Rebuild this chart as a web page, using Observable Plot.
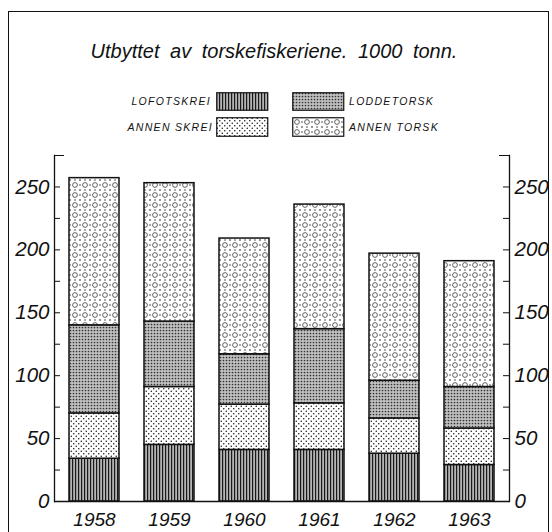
<!DOCTYPE html>
<html>
<head>
<meta charset="utf-8">
<script src="https://cdn.jsdelivr.net/npm/d3@7"></script>
<script src="https://cdn.jsdelivr.net/npm/@observablehq/plot@0.6"></script>
<style>
  body { margin: 0; background: #fff; }
  #wrap { position: relative; width: 552px; height: 532px; overflow: hidden; background: #fff;
          font-family: "Liberation Sans", Arial, sans-serif; color: #111; }
  #border { position: absolute; left: 8px; top: 11px; width: 539px; height: 540px;
            border: 1.5px solid #111; border-bottom: none; }
  #title { position: absolute; left: 0; width: 548px; top: 41px; text-align: center;
           font-style: italic; font-size: 20px; line-height: 20px; word-spacing: 5px; white-space: nowrap; }
  .lg { position: absolute; font-style: italic; font-size: 10.5px; line-height: 10.5px;
        letter-spacing: 1.3px; white-space: nowrap; }
  .sw { position: absolute; }
  #chart { position: absolute; left: 0; top: 140px; }
  #chart text { font-style: italic; }
  #chart g[aria-label="y-axis tick label"] { font-size: 20.5px; }
</style>
</head>
<body>
<svg width="0" height="0" style="position:absolute">
  <defs>
    <pattern id="pLofot" width="3" height="3" patternUnits="userSpaceOnUse">
      <rect width="3" height="3" fill="#b4b4b4"/>
      <rect width="1.2" height="3" fill="#1a1a1a"/>
    </pattern>
    <pattern id="pSkrei" width="5" height="5" patternUnits="userSpaceOnUse">
      <rect width="5" height="5" fill="#fff"/>
      <circle cx="1.25" cy="1.25" r="0.75" fill="#111"/>
      <circle cx="3.75" cy="3.75" r="0.75" fill="#111"/>
    </pattern>
    <pattern id="pLodde" width="3" height="3" patternUnits="userSpaceOnUse">
      <rect width="3" height="3" fill="#c0c0c0"/>
      <circle cx="1.5" cy="1.5" r="0.85" fill="#333"/>
    </pattern>
    <pattern id="pTorsk" width="10" height="10" patternUnits="userSpaceOnUse">
      <rect width="10" height="10" fill="#fff"/>
      <circle cx="5" cy="5" r="2.4" fill="none" stroke="#222" stroke-width="0.7"/>
      <circle cx="0" cy="0" r="0.8" fill="#111"/>
      <circle cx="10" cy="0" r="0.8" fill="#111"/>
      <circle cx="0" cy="10" r="0.8" fill="#111"/>
      <circle cx="10" cy="10" r="0.8" fill="#111"/>
      <circle cx="5" cy="0" r="0.7" fill="#111"/>
      <circle cx="5" cy="10" r="0.7" fill="#111"/>
      <circle cx="0" cy="5" r="0.7" fill="#111"/>
      <circle cx="10" cy="5" r="0.7" fill="#111"/>
    </pattern>
  </defs>
</svg>
<div id="wrap">
  <div id="border"></div>
  <div id="title"></div>
  <div id="legend"></div>
  <div id="chart"></div>
</div>
<script>
// ---- data ----
const titleText = "Utbyttet av torskefiskeriene. 1000 tonn.";
const years = ["1958", "1959", "1960", "1961", "1962", "1963"];
const series = ["Lofotskrei", "Annen skrei", "Loddetorsk", "Annen torsk"];
const legendLabels = ["LOFOTSKREI", "ANNEN SKREI", "LODDETORSK", "ANNEN TORSK"];
const lofotskrei = [34, 45, 41, 41, 38, 29];
const annenSkrei = [36, 46, 36, 37, 28, 29];
const loddetorsk = [70, 52, 40, 59, 30, 33];
const annenTorsk = [117, 110, 92, 99, 101, 100];
const yTicks = [0, 50, 100, 150, 200, 250];
const yMinorTicks = [25, 50, 75, 100, 125, 150, 175, 200, 225, 250];
const yTop = 275;

// ---- styles ----
const patterns = {
  "Lofotskrei": "url(#pLofot)",
  "Annen skrei": "url(#pSkrei)",
  "Loddetorsk": "url(#pLodde)",
  "Annen torsk": "url(#pTorsk)"
};

const valuesBySeries = [lofotskrei, annenSkrei, loddetorsk, annenTorsk];
const rows = years.flatMap((year, i) =>
  series.map((s, j) => ({year, series: s, value: valuesBySeries[j][i]}))
);

document.getElementById("title").textContent = titleText;

// legend
const legend = document.getElementById("legend");
const legendPos = [
  {label: {right: 552 - 211, top: 96}, sw: {left: 216, top: 92, h: 18}},
  {label: {right: 552 - 213, top: 122}, sw: {left: 216, top: 117, h: 19}},
  {label: {left: 349, top: 96}, sw: {left: 292, top: 92, h: 18}},
  {label: {left: 349, top: 122}, sw: {left: 292, top: 117, h: 19}}
];
const seriesForLegend = ["Lofotskrei", "Annen skrei", "Loddetorsk", "Annen torsk"];
legendPos.forEach((p, k) => {
  const t = document.createElement("div");
  t.className = "lg";
  t.textContent = legendLabels[k];
  t.style.top = p.label.top + "px";
  if (p.label.right != null) t.style.right = p.label.right + "px"; else t.style.left = p.label.left + "px";
  legend.appendChild(t);
  const ns = "http://www.w3.org/2000/svg";
  const svg = document.createElementNS(ns, "svg");
  svg.setAttribute("class", "sw");
  svg.setAttribute("width", 53);
  svg.setAttribute("height", p.sw.h + 1);
  svg.style.left = p.sw.left + "px";
  svg.style.top = p.sw.top + "px";
  const r = document.createElementNS(ns, "rect");
  r.setAttribute("x", 0.75); r.setAttribute("y", 0.75);
  r.setAttribute("width", 51); r.setAttribute("height", p.sw.h - 0.5);
  r.setAttribute("fill", patterns[seriesForLegend[k]]);
  r.setAttribute("stroke", "#111"); r.setAttribute("stroke-width", 1.2);
  svg.appendChild(r);
  legend.appendChild(svg);
});

const W = 552, H = 392, mL = 54, mR = 43, mT = 15, mB = 31;
const frameW = W - mL - mR;

const chart = Plot.plot({
  width: W, height: H,
  marginLeft: mL, marginRight: mR, marginTop: mT, marginBottom: mB,
  style: {background: "transparent", fontFamily: "'Liberation Sans', Arial, sans-serif",
          fontSize: "19px", fontStyle: "italic", color: "#111", overflow: "visible"},
  x: {domain: years, paddingInner: 0.33, paddingOuter: 0.16, label: null, tickSize: 0, tickPadding: 11},
  y: {domain: [0, yTop], label: null, axis: "both", ticks: yTicks, tickSize: 0, tickPadding: 5},
  color: {type: "identity"},
  marks: [
    Plot.barY(rows, {x: "year", y: "value", fill: d => patterns[d.series], stroke: "#111", strokeWidth: 1.5}),
    Plot.frame({anchor: "left", stroke: "#111", strokeWidth: 1.3}),
    Plot.frame({anchor: "right", stroke: "#111", strokeWidth: 1.3}),
    Plot.ruleY([0], {stroke: "#111", strokeWidth: 1.5}),
    Plot.ruleY(yMinorTicks, {insetRight: frameW - 6, stroke: "#111"}),
    Plot.ruleY(yMinorTicks, {insetLeft: frameW - 6, stroke: "#111"}),
    Plot.ruleY([yTop], {insetRight: frameW - 10, stroke: "#111"}),
    Plot.ruleY([yTop], {insetLeft: frameW - 10, stroke: "#111"})
  ]
});
document.getElementById("chart").appendChild(chart);
</script>
</body>
</html>
